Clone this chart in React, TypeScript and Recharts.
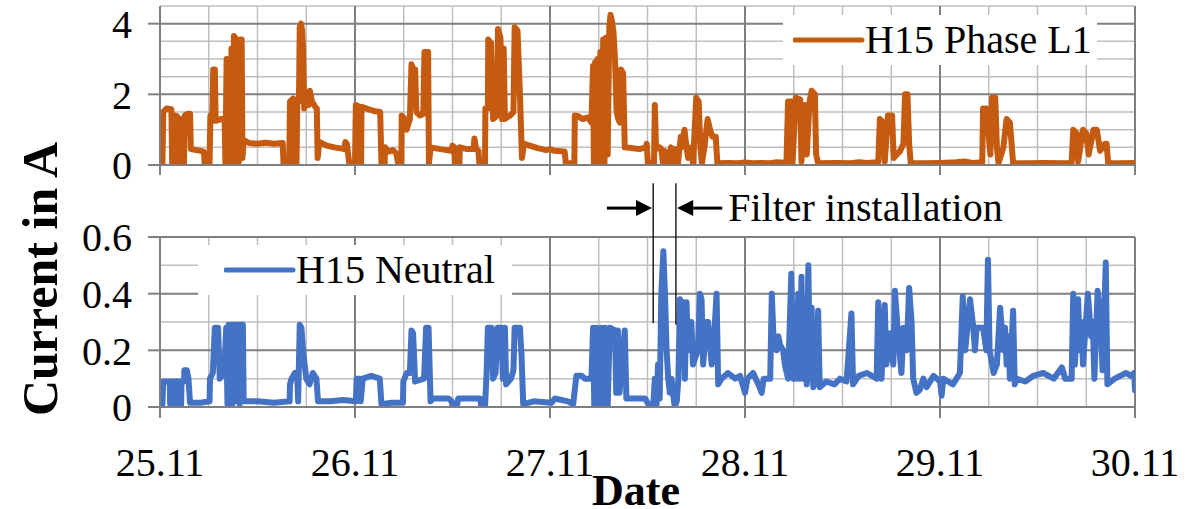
import React from 'react';
import { LineChart, Line, XAxis, YAxis, ReferenceLine, Legend } from 'recharts';

const FONT = '"Liberation Serif", "Times New Roman", Times, serif';
const ORANGE = '#C55A11';
const BLUE = '#4472C4';
const GRID_MINOR = '#bfbfbf';
const GRID_MAJOR = '#7f7f7f';

// time axis in hours since 25.11 00:00
const dayTicks = [0, 24, 48, 72, 96, 120];
const dateLabels = ['25.11', '26.11', '27.11', '28.11', '29.11', '30.11'];
const sixHourLines = [6, 12, 18, 30, 36, 42, 54, 60, 66, 78, 84, 90, 102, 108, 114];
const dayLines = [24, 48, 72, 96, 120];

const l1Ticks = [0, 2, 4];
const l1MinorY = [0.5, 1, 1.5, 2.5, 3, 3.5, 4.5];
const l1MajorY = [2, 4];

const nTicks = [0, 0.2, 0.4, 0.6];
const nMinorY = [0.1, 0.3, 0.5];
const nMajorY = [0.2, 0.4, 0.6];

// filter installation window (hours)
const filterStart = 60.7;
const filterEnd = 63.5;

// [hour, current A]
const phaseL1: [number, number][] = [
  [0, 0.05], [0.3, 0.05], [0.4, 1.5], [0.8, 1.6], [1.4, 1.58], [1.5, 0.05], [1.65, 0.05], [1.75, 1.4], [2.1, 1.38], [2.2, 0.05],
  [2.4, 0.05], [2.5, 1.3], [2.7, 1.3], [2.8, 0.05], [2.95, 0.05], [3.05, 1.4], [3.4, 1.45], [3.7, 1.45], [3.8, 0.45], [4.5, 0.42],
  [5.0, 0.4], [5.4, 0.38], [5.5, 0.05], [6.1, 0.05], [6.2, 1.4], [6.45, 1.45], [6.55, 2.7], [6.75, 2.7], [6.85, 1.25], [7.5, 1.3],
  [7.95, 1.3], [8.05, 0.05], [8.2, 3.0], [8.35, 0.05], [8.5, 3.0], [8.65, 0.1], [8.8, 3.3], [8.95, 0.05], [9.1, 3.65], [9.25, 3.6],
  [9.4, 0.05], [9.55, 3.5], [9.7, 0.1], [9.85, 3.55], [10.05, 3.55], [10.15, 0.2], [10.3, 0.7], [11, 0.62], [12, 0.6], [13, 0.63],
  [14, 0.6], [15.1, 0.62], [15.2, 0.05], [15.9, 0.05], [16.0, 1.8], [16.4, 1.88], [16.5, 0.05], [16.8, 0.05], [16.9, 1.85], [17.1, 1.8],
  [17.2, 3.9], [17.35, 4.0], [17.5, 3.8], [17.6, 3.3], [17.75, 1.6], [18.0, 1.8], [18.3, 1.7], [18.45, 2.1], [18.7, 1.8], [19.1, 1.65],
  [19.3, 1.6], [19.4, 0.2], [19.6, 0.65], [20.5, 0.55], [21.5, 0.5], [22.7, 0.45], [22.8, 0.65], [23.0, 0.6], [23.1, 0.4], [23.3, 0.05],
  [24.0, 0.05], [24.1, 1.7], [24.5, 1.65], [24.55, 0.05], [24.75, 0.05], [24.8, 1.65], [25.6, 1.58], [26.5, 1.52], [27.1, 1.5], [27.25, 0.05],
  [27.65, 0.05], [27.7, 0.5], [28.1, 0.38], [28.7, 0.42], [29.1, 0.32], [29.3, 0.05], [29.7, 0.05], [29.75, 1.4], [30.15, 1.3], [30.35, 1.0],
  [30.75, 1.3], [30.95, 2.85], [31.2, 2.7], [31.4, 2.7], [31.55, 1.5], [32.0, 1.4], [32.4, 1.45], [32.55, 3.2], [33.0, 3.2], [33.1, 0.05],
  [33.3, 0.5], [34.5, 0.45], [35.5, 0.42], [35.85, 0.4], [36.0, 0.55], [36.2, 0.5], [36.3, 0.05], [36.85, 0.05], [36.9, 0.5], [37.8, 0.45],
  [38.6, 0.45], [38.7, 0.75], [38.9, 0.45], [39.2, 0.4], [39.3, 0.05], [40.0, 0.05], [40.05, 1.6], [40.35, 1.6], [40.4, 3.55], [40.75, 3.45],
  [41.0, 1.3], [41.5, 1.4], [41.6, 3.85], [41.9, 3.6], [42.1, 1.3], [42.3, 3.3], [42.45, 1.3], [42.7, 1.35], [43.1, 1.4], [43.5, 1.5],
  [43.65, 3.9], [44.0, 3.8], [44.3, 2.0], [44.55, 0.2], [44.8, 0.6], [45.5, 0.55], [46.5, 0.48], [47.5, 0.42], [48.0, 0.45], [48.5, 0.4],
  [49.8, 0.38], [49.95, 0.05], [51.0, 0.05], [51.05, 1.4], [51.5, 1.38], [52.0, 1.3], [52.7, 1.35], [53.1, 1.2], [53.3, 2.8], [53.4, 0.05],
  [53.55, 2.9], [53.7, 0.05], [53.85, 3.0], [54.0, 0.05], [54.2, 3.2], [54.35, 0.1], [54.55, 3.55], [54.7, 0.05], [54.9, 3.6], [55.1, 0.3],
  [55.3, 3.9], [55.45, 4.25], [55.6, 4.1], [55.8, 3.8], [56.0, 3.0], [56.2, 1.5], [56.4, 1.3], [56.6, 1.2], [56.75, 2.7], [57.0, 2.6],
  [57.2, 0.5], [58.0, 0.48], [59.0, 0.45], [59.8, 0.5], [59.9, 0.6], [60.05, 0.05], [60.8, 0.05], [60.9, 1.7], [61.05, 0.45], [61.5, 0.5],
  [61.7, 0.45], [61.9, 0.05], [62.1, 0.4], [62.4, 0.35], [62.5, 0.05], [62.9, 0.5], [63.1, 0.05], [63.5, 0.45], [63.75, 0.05], [64.1, 0.8],
  [64.2, 0.5], [64.55, 1.0], [64.8, 0.5], [65.0, 0.2], [65.4, 0.5], [65.6, 0.05], [66.0, 1.9], [66.3, 1.8], [66.5, 0.5], [66.7, 0.05],
  [67.0, 0.5], [67.4, 1.3], [67.7, 1.0], [68.0, 0.8], [68.4, 0.8], [68.6, 0.05], [70, 0.06], [71, 0.05], [72, 0.07], [73, 0.05],
  [74, 0.06], [75, 0.05], [76, 0.08], [77.1, 0.06], [77.3, 1.8], [77.7, 1.8], [77.85, 0.05], [78.25, 1.9], [78.8, 1.85], [78.95, 0.1],
  [79.2, 1.3], [79.4, 1.7], [79.6, 0.3], [79.95, 1.8], [80.2, 2.1], [80.6, 2.0], [80.75, 0.3], [81.0, 0.05], [83, 0.06], [85, 0.05],
  [86, 0.08], [87, 0.06], [88.4, 0.08], [88.6, 1.3], [89.0, 1.2], [89.2, 0.1], [89.6, 1.4], [90.1, 1.4], [90.3, 0.2], [90.7, 0.3],
  [91.1, 0.4], [91.5, 0.6], [91.7, 2.0], [92.0, 2.0], [92.2, 0.6], [92.4, 0.05], [94, 0.05], [96, 0.06], [98, 0.08], [99, 0.1],
  [100, 0.06], [101.2, 0.08], [101.3, 1.6], [101.7, 1.6], [102.2, 0.3], [102.4, 1.9], [102.8, 1.9], [103.0, 0.5], [103.2, 0.05], [103.8, 0.5],
  [104.2, 1.3], [104.6, 1.2], [105.0, 0.05], [107, 0.05], [109, 0.06], [111, 0.05], [112.2, 0.06], [112.4, 1.0], [112.8, 0.9], [113.0, 0.1],
  [113.6, 1.0], [114.0, 0.9], [114.3, 0.3], [114.9, 1.0], [115.3, 1.0], [115.7, 0.4], [116.3, 0.6], [116.5, 0.6], [116.7, 0.05], [118, 0.05],
  [120, 0.06],
];

const neutral: [number, number][] = [
  [0, 0.0], [0.3, 0.01], [0.4, 0.09], [1.2, 0.09], [1.25, 0.01], [1.4, 0.01], [1.45, 0.09], [1.75, 0.09], [1.8, 0.01], [1.9, 0.01],
  [1.95, 0.09], [2.4, 0.09], [2.45, 0.01], [2.6, 0.01], [2.65, 0.09], [2.95, 0.09], [3.0, 0.13], [3.3, 0.13], [3.5, 0.1], [3.7, 0.015],
  [5, 0.015], [6.1, 0.02], [6.15, 0.1], [6.5, 0.12], [6.75, 0.28], [7.15, 0.28], [7.35, 0.1], [7.9, 0.12], [8.15, 0.28], [8.3, 0.01],
  [8.45, 0.29], [8.6, 0.01], [8.75, 0.29], [8.9, 0.01], [9.05, 0.29], [9.2, 0.02], [9.35, 0.29], [9.7, 0.29], [9.8, 0.01], [9.95, 0.29],
  [10.2, 0.29], [10.3, 0.02], [12, 0.02], [14, 0.015], [15.95, 0.02], [16.0, 0.08], [16.2, 0.1], [16.6, 0.12], [16.9, 0.1], [17.0, 0.02],
  [17.2, 0.29], [17.4, 0.28], [17.6, 0.2], [18.0, 0.1], [18.4, 0.08], [18.8, 0.12], [19.25, 0.1], [19.45, 0.02], [21, 0.02], [22.5, 0.025],
  [24.1, 0.02], [24.2, 0.1], [24.6, 0.1], [24.7, 0.02], [24.95, 0.1], [26, 0.11], [27.05, 0.1], [27.25, 0.01], [28.5, 0.015], [29.9, 0.015],
  [29.95, 0.09], [30.35, 0.12], [30.75, 0.12], [30.95, 0.27], [31.15, 0.26], [31.4, 0.09], [32.5, 0.1], [32.75, 0.28], [33.05, 0.28], [33.3, 0.02],
  [33.6, 0.03], [35.5, 0.03], [35.9, 0.02], [36.0, 0.0], [36.6, 0.01], [36.7, 0.03], [39.4, 0.03], [39.55, 0.0], [40.0, 0.0], [40.2, 0.12],
  [40.35, 0.28], [40.8, 0.28], [41.0, 0.1], [41.3, 0.12], [41.55, 0.28], [42.0, 0.28], [42.2, 0.1], [42.45, 0.28], [42.6, 0.08], [43.2, 0.1],
  [43.5, 0.13], [43.65, 0.28], [44.3, 0.28], [44.5, 0.18], [44.7, 0.01], [46, 0.02], [48.2, 0.015], [48.6, 0.03], [50.2, 0.02], [50.85, 0.01],
  [51.25, 0.11], [51.9, 0.11], [52.3, 0.1], [53.1, 0.1], [53.3, 0.28], [53.45, 0.0], [53.7, 0.28], [53.9, 0.0], [54.3, 0.28], [54.5, 0.0],
  [54.75, 0.28], [55.1, 0.0], [55.35, 0.28], [56.0, 0.27], [56.15, 0.05], [56.35, 0.27], [56.55, 0.05], [57.2, 0.27], [57.4, 0.03], [59.7, 0.03],
  [59.9, 0.02], [60.3, 0.0], [60.7, 0.0], [60.9, 0.1], [61.1, 0.0], [61.3, 0.15], [61.5, 0.03], [61.7, 0.4], [61.95, 0.55], [62.15, 0.4],
  [62.35, 0.2], [62.55, 0.1], [62.75, 0.05], [62.95, 0.1], [63.15, 0.05], [63.35, 0.0], [63.6, 0.02], [63.8, 0.1], [64.0, 0.38], [64.2, 0.15],
  [64.4, 0.37], [64.6, 0.1], [64.8, 0.37], [65.0, 0.2], [65.4, 0.3], [65.6, 0.15], [66.2, 0.2], [66.45, 0.4], [66.65, 0.38], [66.85, 0.15],
  [67.25, 0.3], [67.45, 0.3], [67.9, 0.15], [68.1, 0.2], [68.5, 0.4], [68.7, 0.08], [69.1, 0.1], [69.9, 0.12], [70.8, 0.1], [71.4, 0.11],
  [72.0, 0.05], [72.3, 0.1], [73.0, 0.12], [73.8, 0.07], [74.05, 0.05], [74.3, 0.1], [75.1, 0.1], [75.3, 0.4], [75.5, 0.25], [75.7, 0.25],
  [75.9, 0.2], [76.1, 0.25], [76.3, 0.22], [76.7, 0.2], [76.9, 0.15], [77.3, 0.1], [77.7, 0.47], [77.95, 0.1], [78.15, 0.35], [78.35, 0.1],
  [78.55, 0.4], [78.75, 0.1], [78.95, 0.46], [79.15, 0.1], [79.4, 0.38], [79.6, 0.08], [79.8, 0.5], [80.0, 0.1], [80.2, 0.35], [80.4, 0.07],
  [80.8, 0.1], [81.0, 0.34], [81.2, 0.07], [82, 0.09], [83, 0.08], [83.7, 0.1], [84.5, 0.09], [85.1, 0.33], [85.3, 0.08], [86, 0.11],
  [87, 0.12], [88.2, 0.1], [88.4, 0.37], [88.8, 0.1], [89.2, 0.36], [89.4, 0.15], [89.85, 0.26], [90.25, 0.15], [90.45, 0.41], [90.85, 0.25],
  [91.25, 0.12], [91.5, 0.28], [91.9, 0.2], [92.2, 0.42], [92.5, 0.3], [92.7, 0.1], [93.1, 0.05], [93.5, 0.06], [93.95, 0.1], [94.35, 0.07],
  [95.2, 0.11], [96.0, 0.09], [96.2, 0.04], [96.4, 0.1], [97.6, 0.08], [98.45, 0.12], [98.8, 0.39], [99.1, 0.2], [99.7, 0.38], [100.1, 0.28],
  [100.3, 0.2], [100.5, 0.28], [101.3, 0.28], [101.7, 0.2], [101.9, 0.52], [102.1, 0.2], [102.6, 0.12], [103.0, 0.15], [103.4, 0.35], [103.8, 0.2],
  [104.0, 0.28], [104.2, 0.15], [104.4, 0.25], [104.6, 0.1], [105.0, 0.34], [105.2, 0.08], [105.4, 0.1], [106.5, 0.09], [107.5, 0.11], [108.7, 0.12],
  [110, 0.1], [111.0, 0.14], [111.4, 0.1], [112.2, 0.1], [112.4, 0.4], [112.6, 0.15], [113.0, 0.38], [113.2, 0.2], [113.4, 0.3], [113.6, 0.15],
  [114.2, 0.4], [114.6, 0.25], [114.8, 0.3], [115.0, 0.1], [115.4, 0.41], [115.8, 0.3], [116.0, 0.13], [116.4, 0.51], [116.6, 0.08], [117.5, 0.1],
  [118.9, 0.12], [119.5, 0.11], [119.9, 0.12], [120, 0.06],
];

const l1Data = phaseL1.map(([h, v]) => ({ h, v }));
const nData = neutral.map(([h, v]) => ({ h, v }));

const tickStyle = { fontFamily: FONT, fontSize: 40, fill: '#000' };
const SERIES_WIDTH = 6;

const gridLines = (minorY: number[], majorY: number[]) => [
  ...minorY.map((v) => <ReferenceLine key={'my' + v} y={v} stroke={GRID_MINOR} strokeWidth={1.5} zIndex={-100} />),
  ...sixHourLines.map((h) => <ReferenceLine key={'mx' + h} x={h} stroke={GRID_MINOR} strokeWidth={1.5} zIndex={-100} />),
  ...majorY.map((v) => <ReferenceLine key={'My' + v} y={v} stroke={GRID_MAJOR} strokeWidth={2} zIndex={-90} />),
  ...dayLines.map((h) => <ReferenceLine key={'Mx' + h} x={h} stroke={GRID_MAJOR} strokeWidth={2} zIndex={-90} />),
];

const LegendBox = ({ color, text, pad }: { color: string; text: string; pad: number }) => (
  <div
    style={{
      width: 314,
      height: 50,
      background: '#fff',
      display: 'flex',
      alignItems: 'center',
      fontFamily: FONT,
      fontSize: 40,
      color: '#000',
      whiteSpace: 'nowrap',
    }}
  >
    <svg width={72} height={10} style={{ marginLeft: pad, flex: 'none' }}>
      <line x1={2} y1={5} x2={69} y2={5} stroke={color} strokeWidth={5} strokeLinecap="round" />
    </svg>
    <span style={{ lineHeight: '50px' }}>{text}</span>
  </div>
);

const ArrowShape = (props: any) => {
  const { x1, y1, x2, y2, withText } = props;
  const dir = x2 > x1 ? 1 : -1;
  const head = 16;
  return (
    <g>
      <line x1={x1} y1={y1} x2={x2 - dir * head} y2={y2} stroke="#000" strokeWidth={3} />
      <polygon points={`${x2},${y2} ${x2 - dir * head},${y2 - 8} ${x2 - dir * head},${y2 + 8}`} fill="#000" />
      {withText ? (
        <text x={x1 + 6} y={y1 + 13} fontFamily={FONT} fontSize={40} fill="#000">
          Filter installation
        </text>
      ) : null}
    </g>
  );
};

const VLineShape = (props: any) => {
  const { x1, y1, x2, y2 } = props;
  return <line x1={x1} y1={y1} x2={x2} y2={y2} stroke="#000" strokeWidth={1.3} />;
};

export default function App() {
  return (
    <div style={{ position: 'absolute', left: 0, top: 0, width: 1204, height: 509, background: '#fff', overflow: 'hidden' }}>
      <div style={{ position: 'absolute', left: 0, top: 0 }}>
        <LineChart width={1204} height={195} data={l1Data} margin={{ top: 6, right: 69, bottom: 15, left: 0 }}>
          {gridLines(l1MinorY, l1MajorY)}
          <XAxis
            dataKey="h"
            type="number"
            domain={[0, 120]}
            ticks={dayTicks}
            tick={() => <g />}
            tickSize={10}
            height={15}
            stroke={GRID_MAJOR}
            strokeWidth={2}
            interval={0}
            allowDataOverflow
          />
          <YAxis
            type="number"
            domain={[0, 4.5]}
            ticks={l1Ticks}
            width={160}
            tickSize={12}
            tickMargin={16}
            tick={tickStyle}
            stroke={GRID_MAJOR}
            strokeWidth={2}
            interval={0}
            allowDataOverflow
          />
          <Line
            dataKey="v"
            type="linear"
            stroke={ORANGE}
            strokeWidth={SERIES_WIDTH}
            dot={false}
            isAnimationActive={false}
            strokeLinejoin="round"
            strokeLinecap="round"
          />
          <Legend
            layout="vertical"
            verticalAlign="middle"
            align="center"
            wrapperStyle={{ top: 15, left: 783, width: 314, height: 50 }}
            content={() => <LegendBox color={ORANGE} text="H15 Phase L1" pad={10} />}
          />
        </LineChart>
      </div>
      <div style={{ position: 'absolute', left: 0, top: 180 }}>
        <LineChart width={1204} height={329} data={nData} margin={{ top: 57, right: 69, bottom: 0, left: 0 }}>
          {gridLines(nMinorY, nMajorY)}
          <XAxis
            dataKey="h"
            type="number"
            domain={[0, 120]}
            ticks={dayTicks}
            tickFormatter={(h: number) => dateLabels[dayTicks.indexOf(h)]}
            tickSize={11}
            tickMargin={30}
            height={102}
            tick={tickStyle}
            stroke={GRID_MAJOR}
            strokeWidth={2}
            interval={0}
            allowDataOverflow
          />
          <YAxis
            type="number"
            domain={[0, 0.6]}
            ticks={nTicks}
            width={160}
            tickSize={12}
            tickMargin={16}
            tick={tickStyle}
            stroke={GRID_MAJOR}
            strokeWidth={2}
            interval={0}
            allowDataOverflow
          />
          <Line
            dataKey="v"
            type="linear"
            stroke={BLUE}
            strokeWidth={SERIES_WIDTH}
            dot={false}
            isAnimationActive={false}
            strokeLinejoin="round"
            strokeLinecap="round"
          />
          <ReferenceLine
            segment={[{ x: filterStart, y: 0.296 }, { x: filterStart, y: 0.79 }]}
            ifOverflow="visible"
            shape={<VLineShape />}
          />
          <ReferenceLine
            segment={[{ x: filterEnd, y: 0.29 }, { x: filterEnd, y: 0.79 }]}
            ifOverflow="visible"
            shape={<VLineShape />}
          />
          <ReferenceLine
            segment={[{ x: 55.0, y: 0.702 }, { x: filterStart - 0.15, y: 0.702 }]}
            ifOverflow="visible"
            shape={<ArrowShape />}
          />
          <ReferenceLine
            segment={[{ x: 69.2, y: 0.702 }, { x: filterEnd + 0.15, y: 0.702 }]}
            ifOverflow="visible"
            shape={<ArrowShape withText />}
          />
          <Legend
            layout="vertical"
            verticalAlign="middle"
            align="center"
            wrapperStyle={{ top: 65, left: 198, width: 314, height: 50 }}
            content={() => <LegendBox color={BLUE} text="H15 Neutral" pad={26} />}
          />
        </LineChart>
      </div>
      <svg width={1204} height={509} style={{ position: 'absolute', left: 0, top: 0, pointerEvents: 'none' }}>
        <text
          transform="translate(57,279) rotate(-90)"
          textAnchor="middle"
          fontFamily={FONT}
          fontSize={50}
          fontWeight="bold"
          fill="#000"
        >
          Current in A
        </text>
        <text x={636} y={505} textAnchor="middle" fontFamily={FONT} fontSize={44} fontWeight="bold" fill="#000">
          Date
        </text>
      </svg>
    </div>
  );
}
